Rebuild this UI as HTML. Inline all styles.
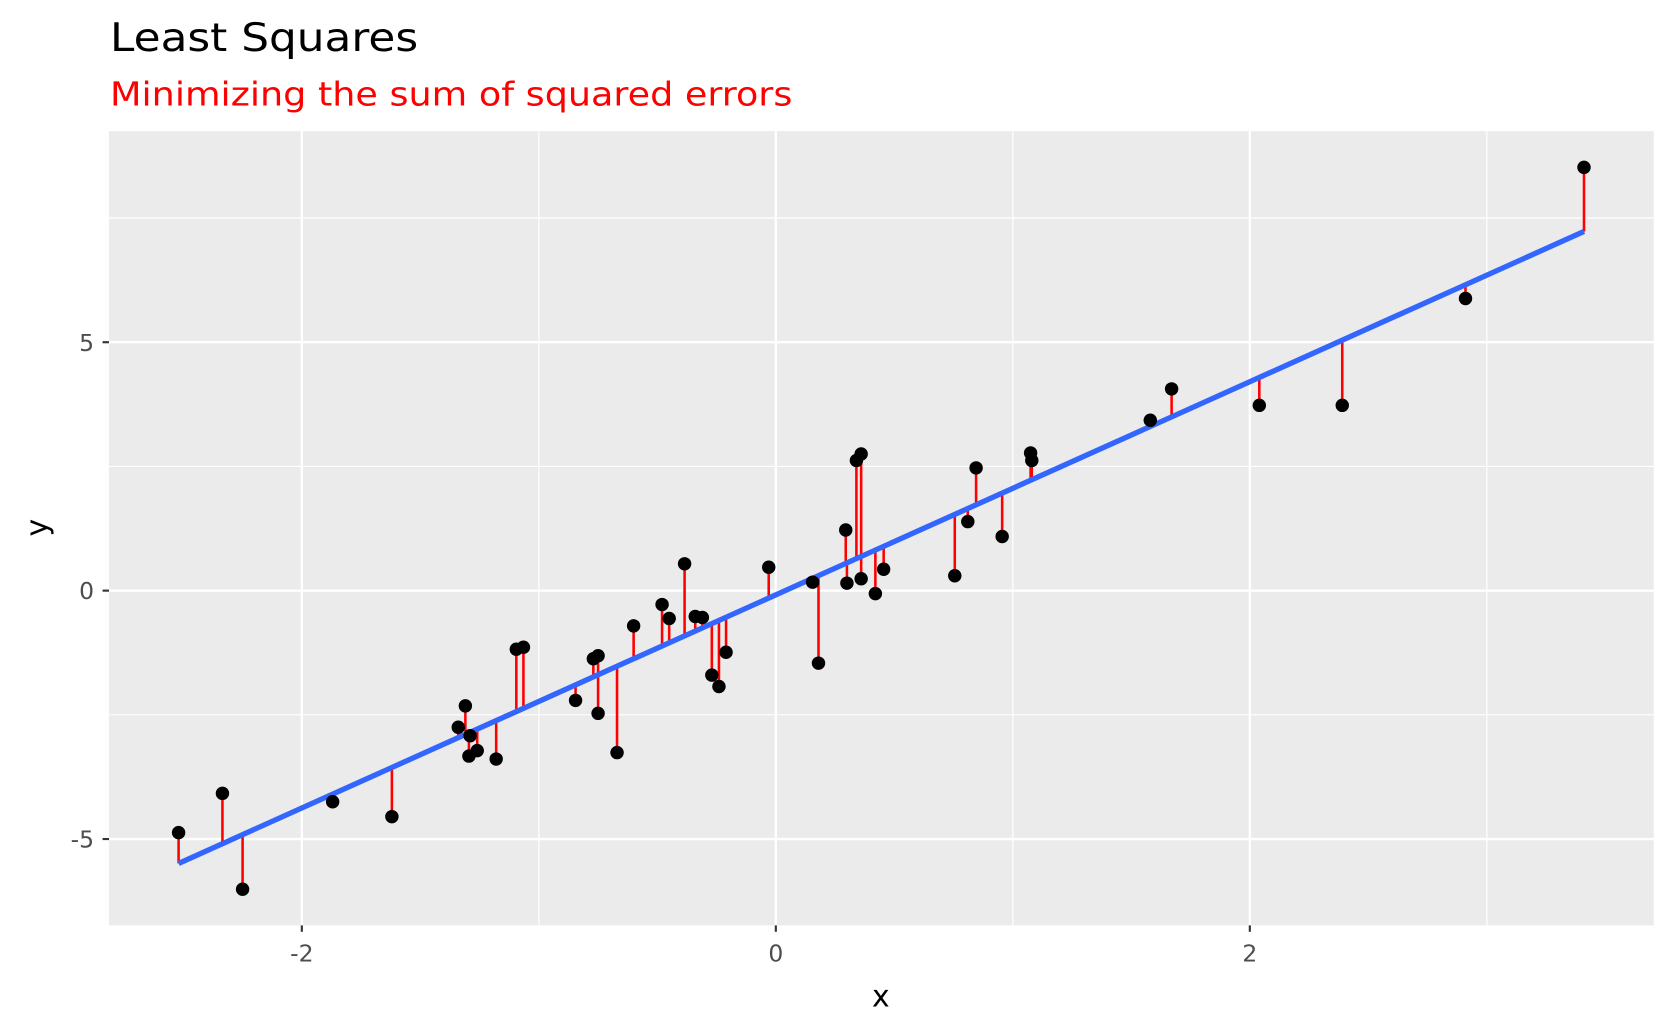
<!DOCTYPE html>
<html><head><meta charset="utf-8"><style>html,body{margin:0;padding:0;background:#fff}svg{display:block}</style></head>
<body>
<svg id="chart" width="1670" height="1032" viewBox="0 0 1566 968" xmlns="http://www.w3.org/2000/svg" font-family="DejaVu Sans, Liberation Sans, sans-serif">
<text x="103" y="48" font-size="37" fill="#000" textLength="289" lengthAdjust="spacingAndGlyphs">Least Squares</text>
<text x="103" y="99" font-size="31" fill="#ff0000" textLength="640" lengthAdjust="spacingAndGlyphs">Minimizing the sum of squared errors</text>
<rect x="102" y="123" width="1449" height="745" fill="#ebebeb"/>
<g id="grid"></g>
<g id="resid"></g>
<g id="fit"></g>
<g id="pts"></g>
<g id="axes"></g>
<text x="826" y="944" font-size="28" text-anchor="middle" fill="#000">x</text>
<text transform="translate(44,495) rotate(-90)" font-size="28" text-anchor="middle" fill="#000">y</text>
</svg>
<script>
const xs = [-2.52,-2.335,-2.25,-1.87,-1.62,-1.34,-1.31,-1.29,-1.295,-1.26,-1.18,-1.095,-1.065,-0.845,-0.77,-0.75,-0.75,-0.67,-0.60,-0.48,-0.45,-0.385,-0.34,-0.31,-0.27,-0.24,-0.21,-0.03,0.155,0.18,0.295,0.30,0.34,0.36,0.36,0.42,0.455,0.755,0.81,0.845,0.955,1.075,1.08,1.58,1.67,2.04,2.39,2.91,3.41];
const ys = [-4.87,-4.08,-6.01,-4.25,-4.55,-2.75,-2.32,-2.92,-3.33,-3.22,-3.39,-1.18,-1.14,-2.21,-1.37,-1.31,-2.47,-3.26,-0.71,-0.28,-0.56,0.54,-0.52,-0.54,-1.70,-1.93,-1.24,0.47,0.17,-1.46,1.22,0.15,2.62,2.75,0.24,-0.06,0.43,0.30,1.39,2.47,1.09,2.77,2.62,3.43,4.06,3.73,3.73,5.88,8.52];
const fitSlope = 2.145;
const fitIntercept = -0.085;
const xMajor = [-2,0,2];
const xMinor = [-1,1,3];
const yMajor = [-5,0,5];
const yMinor = [-2.5,2.5,7.5];
const xTickLabels = ["-2","0","2"];
const yTickLabels = ["-5","0","5"];

const NS="http://www.w3.org/2000/svg";
const X = v => 727.5 + v*222.3;
const Y = v => 554 - v*46.6;
function mk(tag, attrs, parent){const e=document.createElementNS(NS,tag);for(const k in attrs)e.setAttribute(k,attrs[k]);document.getElementById(parent).appendChild(e);return e;}
xMinor.forEach(v=>{const e=mk('line',{x1:X(v),x2:X(v),y1:123,y2:868,stroke:'#fff','stroke-width':1.1},'grid');

});
yMinor.forEach(v=>{const e=mk('line',{x1:102,x2:1551,y1:Y(v),y2:Y(v),stroke:'#fff','stroke-width':1.1},'grid');

});
xMajor.forEach((v,i)=>{const e=mk('line',{x1:X(v),x2:X(v),y1:123,y2:868,stroke:'#fff','stroke-width':2.2},'grid');


const t=mk('line',{x1:X(v),x2:X(v),y1:868,y2:874,stroke:'#333','stroke-width':2},'axes');


const l=mk('text',{x:X(v),y:902,'font-size':22,fill:'#4d4d4d','text-anchor':'middle'},'axes');l.textContent=xTickLabels[i];

});
yMajor.forEach((v,i)=>{const e=mk('line',{x1:102,x2:1551,y1:Y(v),y2:Y(v),stroke:'#fff','stroke-width':2.2},'grid');


const t=mk('line',{x1:96,x2:102,y1:Y(v),y2:Y(v),stroke:'#333','stroke-width':2},'axes');


const l=mk('text',{x:88,y:Y(v)+8,'font-size':22,fill:'#4d4d4d','text-anchor':'end'},'axes');l.textContent=yTickLabels[i];

});
const pred = v => fitIntercept + fitSlope*v;
xs.forEach((v,i)=>{const r=mk('line',{x1:X(v),x2:X(v),y1:Y(ys[i]),y2:Y(pred(v)),stroke:'#ff0000','stroke-width':2.4},'resid');

});
const xmin=Math.min(...xs), xmax=Math.max(...xs);
const fl=mk('line',{x1:X(xmin),y1:Y(pred(xmin)),x2:X(xmax),y2:Y(pred(xmax)),stroke:'#3366ff','stroke-width':5},'fit');


xs.forEach((v,i)=>{const c=mk('circle',{cx:X(v),cy:Y(ys[i]),r:6.3,fill:'#000'},'pts');

});
</script>
</body></html>
